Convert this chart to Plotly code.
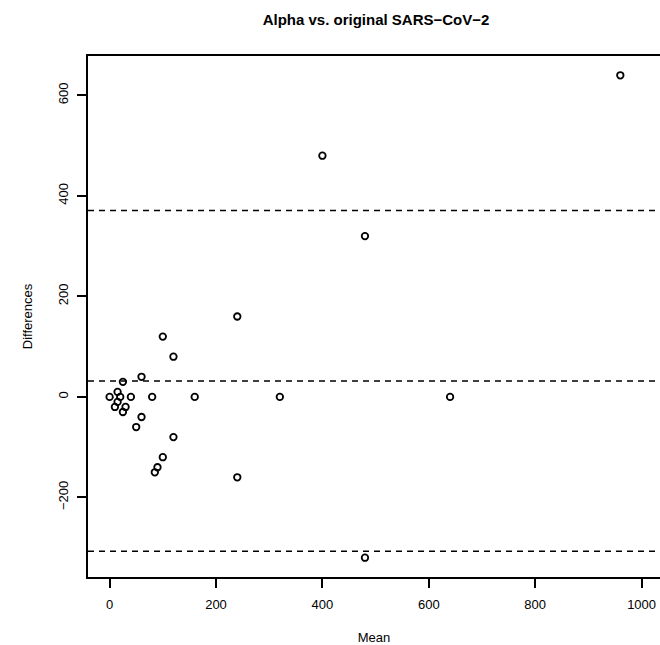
import plotly.graph_objects as go

# Bland-Altman data
mean_vals = [0, 20, 40, 80, 160, 320, 640,
             15, 25, 60, 100, 120, 240, 400, 480, 960,
             15, 10, 30, 25, 60, 50, 120, 100, 90, 85, 240, 480]
diff_vals = [0, 0, 0, 0, 0, 0, 0,
             10, 30, 40, 120, 80, 160, 480, 320, 640,
             -10, -20, -20, -30, -40, -60, -80, -120, -140, -150, -160, -320]

mean_diff = 31.7
upper_loa = 370.7
lower_loa = -307.3

x_ticks = [0, 200, 400, 600, 800, 1000]
y_ticks = [-200, 0, 200, 400, 600]

title_text = "Alpha vs. original SARS\u2212CoV\u22122"
x_title = "Mean"
y_title = "Differences"

font_family = "Liberation Sans, Arial, Helvetica, sans-serif"

W, H = 660, 645

fig = go.Figure()

fig.add_trace(go.Scatter(
    x=mean_vals, y=diff_vals, mode="markers",
    marker=dict(symbol="circle-open", size=6.5, color="black",
                line=dict(color="black", width=1.8)),
    showlegend=False, hoverinfo="x+y"
))

for val in [upper_loa, mean_diff, lower_loa]:
    fig.add_shape(type="line", xref="paper", yref="y", x0=0, x1=1,
                  y0=val, y1=val,
                  line=dict(color="black", width=1.5, dash="6px,5px"))

fig.update_layout(
    width=W, height=H,
    margin=dict(l=88, r=0, t=56, b=66),
    paper_bgcolor="white", plot_bgcolor="white",
    font=dict(family=font_family, color="black", size=13),
    title=dict(text="<b>" + title_text + "</b>", x=376 / W, xref="container",
               xanchor="center", y=1 - 20 / H, yref="container",
               yanchor="middle", font=dict(size=15, family=font_family)),
    xaxis=dict(range=[-40.6, 1034.6], tickvals=x_ticks,
               ticktext=[str(v) for v in x_ticks],
               showgrid=False, zeroline=False, showline=True,
               linecolor="black", linewidth=1.5, mirror=True,
               ticks="outside", ticklen=9, tickwidth=1.5, tickcolor="black",
               ticklabelstandoff=6,
               title=dict(text=x_title, font=dict(size=13), standoff=24),
               tickfont=dict(size=13)),
    yaxis=dict(range=[-358.4, 678.4], tickvals=y_ticks,
               showgrid=False, zeroline=False, showline=True,
               linecolor="black", linewidth=1.5, mirror=False,
               ticks="outside", ticklen=9, tickwidth=1.5, tickcolor="black",
               tickangle=-90, ticklabelstandoff=4,
               title=dict(text=y_title, font=dict(size=13), standoff=20),
               tickfont=dict(size=13)),
)

fig.write_html(
    "out.html",
    config={"displayModeBar": False},
    post_script="document.body.style.margin='0';"
                "document.body.style.overflow='hidden';",
)
